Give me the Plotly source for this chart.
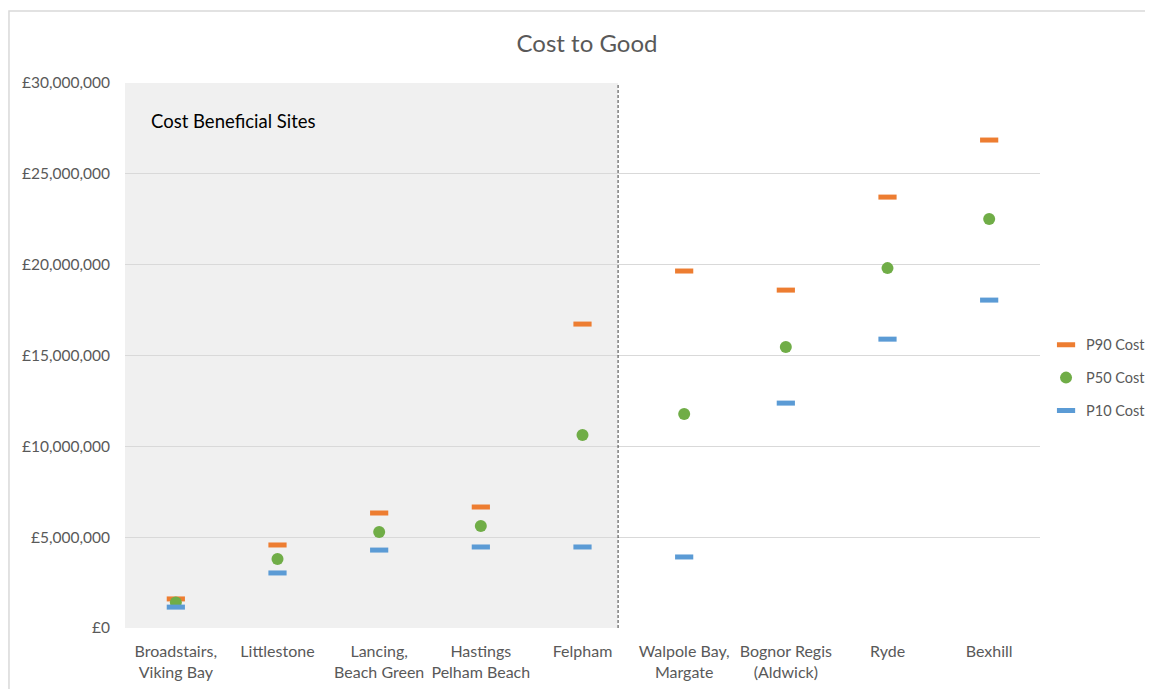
import plotly.graph_objects as go

categories = ["Broadstairs,<br>Viking Bay", "Littlestone", "Lancing,<br>Beach Green",
              "Hastings<br>Pelham Beach", "Felpham", "Walpole Bay,<br>Margate",
              "Bognor Regis<br>(Aldwick)", "Ryde", "Bexhill"]
p90_cost = [1.6e6, 4.57e6, 6.33e6, 6.66e6, 16.73e6, 19.65e6, 18.6e6, 23.72e6, 26.86e6]
p50_cost = [1.4e6, 3.8e6, 5.28e6, 5.61e6, 10.62e6, 11.78e6, 15.47e6, 19.81e6, 22.51e6]
p10_cost = [1.15e6, 3.03e6, 4.29e6, 4.46e6, 4.46e6, 3.91e6, 12.38e6, 15.9e6, 18.05e6]
y_ticks = [0, 5e6, 10e6, 15e6, 20e6, 25e6, 30e6]
y_tick_labels = ["£0", "£5,000,000", "£10,000,000", "£15,000,000", "£20,000,000",
                 "£25,000,000", "£30,000,000"]
divider_pos = 4.35

FONT = "Lato"
GREY = "#595959"
xs = list(range(len(categories)))

fig = go.Figure()
fig.add_trace(go.Scatter(x=xs, y=p90_cost, mode="markers", name="P90 Cost", legendgroup="a",
                         marker=dict(symbol="line-ew", size=13,
                                     line=dict(color="#ED7D31", width=5))))
fig.add_trace(go.Scatter(x=xs, y=p50_cost, mode="markers", name="P50 Cost", legendgroup="b",
                         marker=dict(symbol="circle", size=12, color="#70AD47")))
fig.add_trace(go.Scatter(x=xs, y=p10_cost, mode="markers", name="P10 Cost", legendgroup="c",
                         marker=dict(symbol="line-ew", size=13,
                                     line=dict(color="#5B9BD5", width=5))))

# shaded region
fig.add_shape(type="rect", xref="x", yref="paper", x0=-0.5, x1=divider_pos, y0=0, y1=1,
              fillcolor="#F0F0F0", line=dict(width=0), layer="below")
# divider
fig.add_shape(type="line", xref="x", yref="paper", x0=divider_pos, x1=divider_pos, y0=0, y1=1,
              line=dict(color="#404040", width=1, dash="3px,2px"))
# outer frame
fig.add_shape(type="rect", xref="paper", yref="paper", x0=-0.1268, x1=1.5, y0=-0.3, y1=1.132,
              line=dict(color="#D9D9D9", width=1.5), fillcolor="rgba(0,0,0,0)", layer="below")

fig.add_annotation(text="Cost Beneficial Sites", xref="paper", yref="paper",
                   x=0.026, y=0.930, xanchor="left", yanchor="middle", showarrow=False,
                   font=dict(family=FONT, size=18.5, color="#000000"))

fig.update_layout(
    width=1175, height=700,
    margin=dict(l=117, r=143, t=75, b=80),
    paper_bgcolor="white", plot_bgcolor="white",
    title=dict(text="Cost to Good", x=579 / 1175, xanchor="center", y=1 - 36 / 700,
               yanchor="middle", font=dict(family=FONT, size=24, color=GREY)),
    font=dict(family=FONT, size=15, color=GREY),
    showlegend=True,
    legend=dict(x=1.0066, y=0.459, xanchor="left", yanchor="middle", tracegroupgap=11,
                font=dict(family=FONT, size=14.5, color=GREY), bgcolor="rgba(0,0,0,0)"),
    hovermode=False,
)
fig.update_xaxes(range=[-0.5, 8.5], tickvals=xs, ticktext=categories, showgrid=False,
                 zeroline=False, showline=False, ticks="", ticklabelstandoff=12, automargin=False,
                 tickfont=dict(family=FONT, size=16, color=GREY))
fig.update_yaxes(range=[0, 30e6], tickvals=y_ticks, ticktext=y_tick_labels, showgrid=True,
                 gridcolor="#D9D9D9", gridwidth=1, zeroline=False, showline=False, ticks="",
                 ticklabelstandoff=14, automargin=False,
                 tickfont=dict(family=FONT, size=15.5, color=GREY))

fig.write_html("out.html")
